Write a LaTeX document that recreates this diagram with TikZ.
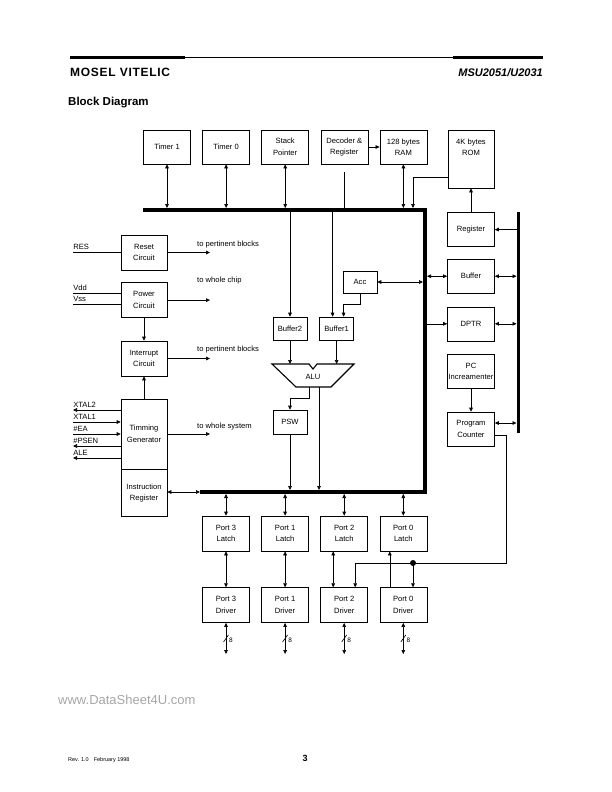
\documentclass[tikz,border=0pt]{standalone}
\usepackage{fontspec}
\setmainfont{Liberation Sans}
\newfontfamily\logofont[LetterSpace=6]{Liberation Sans}
\usetikzlibrary{positioning, arrows.meta}
\newcommand{\blkfont}{\fontsize{7.6}{11.5}\selectfont}
\tikzstyle{block} = [
    rectangle, draw, line width=0.6pt,
    minimum width=47pt, minimum height=34pt, % most boxes
    inner sep=1pt, align=center, font=\blkfont
]
\tikzstyle{smallblock} = [block, minimum width=34pt, minimum height=23pt]
\tikzstyle{note} = [font=\blkfont, inner sep=0pt, anchor=base west]
\tikzstyle{sig} = [note, yshift=3pt] % pin label above its line
\tikzstyle{link} = [line width=0.6pt]
\tikzstyle{arr} = [link, -{Triangle[length=4pt, width=3.6pt]}]
\tikzstyle{rarr} = [link, {Triangle[length=4pt, width=3.6pt]}-]
\tikzstyle{dbl} = [link, {Triangle[length=4pt, width=3.6pt]}-{Triangle[length=4pt, width=3.6pt]}]
\tikzstyle{bus} = [line width=4pt]

\begin{document}
\begin{tikzpicture}[x=1pt, y=-1pt, node distance=11.5pt]
    \useasboundingbox (0,0) rectangle (612,792);

    % Page header
    \draw[line width=3pt] (70,58) -- (185,58);
    \draw[line width=0.6pt] (185,57.5) -- (453,57.5);
    \draw[line width=3pt] (453,58) -- (543,58);
    \node[anchor=base west, inner sep=0pt, font=\fontsize{12}{14}\selectfont\logofont\bfseries] (vendor) at (70,77) {MOSEL VITELIC};
    \node[anchor=base east, inner sep=0pt, font=\fontsize{11}{13}\selectfont\bfseries\itshape] (part) at (543,77) {MSU2051/U2031};
    \node[anchor=base west, inner sep=0pt, font=\fontsize{11.5}{13}\selectfont\bfseries] (title) at (68,105) {Block Diagram};

    % Bus coordinates
    \coordinate (busA) at (143,210);
    \coordinate (busB) at (425,210);
    \coordinate (busC) at (425,492);
    \coordinate (busD) at (200,492);
    \coordinate (tbus) at (0,208);   % upper edge, top bus
    \coordinate (tbusb) at (0,212);  % lower edge, top bus
    \coordinate (rbusL) at (423,0);
    \coordinate (rbusR) at (427,0);
    \coordinate (bbusT) at (0,490);
    \coordinate (bbusB) at (0,494);
    \coordinate (sbusT) at (518,212);
    \coordinate (sbusB) at (518,433);
    \coordinate (sbusL) at (516.5,0);

    % Top row
    \node[block] (timer1) at (167,147) {Timer 1};
    \node[block] (timer0) [right=of timer1] {Timer 0};
    \node[block] (stack) [right=of timer0] {Stack\\Pointer};
    \node[block] (decoder) [right=of stack] {Decoder \&\\Register};
    \node[block] (ram) [right=of decoder] {128 bytes\\RAM};
    \node[block, minimum height=58pt, minimum width=46pt] (rom) at (471,159) {4K bytes\\ROM\\[12.5pt]};

    % Right column
    \node[block] (register) [below=24pt of rom] {Register};
    \node[block] (buffer) [below=12pt of register] {Buffer};
    \node[block] (dptr) [below=13pt of buffer] {DPTR};
    \node[block] (pcinc) [below=13pt of dptr] {PC\\\makebox[0pt]{Increamenter}};
    \node[block] (pc) [below=23pt of pcinc] {Program\\Counter};

    % Left column
    \node[block, minimum width=46pt, minimum height=35pt] (reset) at (144,252.5) {Reset\\Circuit};
    \node[block, minimum width=46pt, minimum height=35pt] (power) [below=12pt of reset] {Power\\Circuit};
    \node[block, minimum width=46pt, minimum height=35pt] (interrupt) at (144,358.5) {Interrupt\\Circuit};
    \node[block, minimum width=46pt, minimum height=70pt] (timing) at (144,434) {Timming\\Generator};
    \node[block, minimum width=46pt, minimum height=47pt] (instr) [below=0pt of timing] {Instruction\\Register};

    % Middle
    \node[smallblock] (buffer2) at (290,328.5) {Buffer2};
    \node[smallblock] (buffer1) [right=12pt of buffer2] {Buffer1};
    \node[smallblock, minimum height=22pt] (acc) at (360,282) {Acc};
    \node[smallblock, minimum height=24pt] (psw) at (290,422) {PSW};

    % ALU
    \draw[line width=1.1pt, line join=miter] (272,364) -- (309,364) -- (313,369) -- (317,364)
        -- (354,364) -- (331,387) -- (296,387) -- cycle;
    \node[font=\blkfont] (alu) at (313,377) {ALU};
    \coordinate (aluT) at (0,364);
    \coordinate (aluB1) at (309,387);
    \coordinate (aluB2) at (319,387);

    % Ports
    \node[block, minimum height=35pt] (latch3) at (226,533.5) {Port 3\\Latch};
    \node[block, minimum height=35pt] (latch1) [right=of latch3] {Port 1\\Latch};
    \node[block, minimum height=35pt] (latch2) [right=of latch1] {Port 2\\Latch};
    \node[block, minimum height=35pt] (latch0) [right=of latch2] {Port 0\\Latch};
    \foreach \p in {3,1,2,0}
        \node[block, minimum height=35pt] (drv\p) [below=36pt of latch\p] {Port \p\\Driver};

    % Buses
    \draw[bus, line join=miter] (busA) -- (busB) -- (busC) -- (busD);
    \draw[line width=3pt] (sbusT) -- (sbusB);

    % Top row to bus
    \draw[dbl] (timer1.south) -- (timer1.south |- tbus);
    \draw[dbl] (timer0.south) -- (timer0.south |- tbus);
    \draw[dbl] (stack.south) -- (stack.south |- tbus);
    \draw[link] ([yshift=-8pt]decoder.south) -- (decoder.south |- tbus);
    \draw[arr] (decoder.east) -- (ram.west);
    \draw[dbl] (ram.south) -- (ram.south |- tbus);
    \coordinate (romdrop) at (413,208);
    \draw[arr] ([yshift=-18pt]rom.west) -| (romdrop);
    \draw[arr] (register.north) -- (register.north |- rom.south);

    % Right column links
    \draw[arr] (register.east -| sbusL) -- (register.east);
    \draw[dbl] (buffer.east) -- (buffer.east -| sbusL);
    \draw[dbl] (dptr.east) -- (dptr.east -| sbusL);
    \draw[dbl] ([yshift=6pt]pc.east) -- ([yshift=6pt]pc.east -| sbusL);
    \draw[dbl] (buffer.west -| rbusR) -- (buffer.west);
    \draw[arr] (dptr.west -| rbusR) -- (dptr.west);
    \draw[arr] (pcinc.south) -- (pc.north);

    % Middle links
    \draw[dbl] (acc.east) -- (acc.east -| rbusL);
    \draw[arr] (buffer2.north |- tbusb) -- (buffer2.north);
    \draw[arr] ([xshift=-4pt]buffer1.north |- tbusb) -- ([xshift=-4pt]buffer1.north);
    \draw[arr] (acc.south) -- ++(0,11) -| ([xshift=7pt]buffer1.north);
    \draw[arr] (buffer2.south) -- (buffer2.south |- aluT);
    \draw[arr] (buffer1.south) -- (buffer1.south |- aluT);
    \draw[arr] (aluB1) -- ++(0,11) -| (psw.north);
    \draw[arr] (aluB2) -- (aluB2 |- bbusT);
    \draw[arr] (psw.south) -- (psw.south |- bbusT);

    % Left column signals
    \coordinate (outx) at (210,0);
    \coordinate (pinRES) at (73,252.5);
    \coordinate (pinVdd) at (73,293);
    \coordinate (pinVss) at (73,304);
    \draw[link] (pinRES) -- (reset.west) node[pos=0, sig] {RES};
    \draw[link] (pinVdd) -- (power.west |- pinVdd) node[pos=0, sig] {Vdd};
    \draw[link] (pinVss) -- (power.west |- pinVss) node[pos=0, sig] {Vss};
    \foreach \lbl/\yy/\tip in {XTAL2/410/rarr, XTAL1/422/arr, {\#EA}/434/arr, {\#PSEN}/446/rarr, ALE/458/rarr} {
        \coordinate (sig\yy) at (73,\yy);
        \draw[\tip] (sig\yy) -- (timing.west |- sig\yy) node[pos=0, sig] {\lbl};
    }
    \draw[arr] (reset.east) -- (reset.east -| outx);
    \draw[arr] (power.east) -- (power.east -| outx);
    \draw[arr] (interrupt.east) -- (interrupt.east -| outx);
    \draw[arr] (timing.east) -- (timing.east -| outx);
    \node[note] (toreset) at (197,246) {to pertinent blocks};
    \node[note] (tochip) at (197,282) {to whole chip};
    \node[note] (toint) at (197,351) {to pertinent blocks};
    \node[note] (tosys) at (197,428) {to whole system};
    \draw[arr] (power.south) -- (interrupt.north);
    \draw[arr] (timing.north) -- (interrupt.south);
    \draw[dbl] (instr.east |- busD) -- (busD);

    % Ports to bus and pins
    \foreach \p in {3,1,2,0}
        \draw[dbl] (latch\p.north |- bbusB) -- (latch\p.north);
    \draw[dbl] (latch3.south) -- (drv3.north);
    \draw[dbl] (latch1.south) -- (drv1.north);
    \draw[dbl] ([xshift=-11pt]latch2.south) -- ([xshift=-11pt]drv2.north);
    \draw[rarr] ([xshift=-13.5pt]latch0.south) -- ([xshift=-13.5pt]drv0.north);
    \coordinate (pcrun) at (506,0);
    \coordinate (joint) at (413,563);
    \draw[link] ([yshift=-6.5pt]pc.east) -| (pcrun |- joint) -- (joint);
    \draw[arr] (joint) -| ([xshift=11pt]drv2.north);
    \draw[arr] (joint) -- (joint |- drv0.north);
    \fill (joint) circle (3);
    \coordinate (pinrow) at (0,654);
    \foreach \p in {3,1,2,0} {
        \draw[dbl] (drv\p.south) -- (drv\p.south |- pinrow) coordinate[pos=0.5] (mid\p);
        \draw[link] ([shift={(-2.5,3.5)}]mid\p) -- ([shift={(2.5,-3.5)}]mid\p);
        \node[font=\fontsize{6.5}{7}\selectfont, anchor=west, inner sep=0pt] (width\p) at ([shift={(3,2)}]mid\p) {8};
    }

    % Footer
    \node[anchor=base west, inner sep=0pt, text=black!35, font=\fontsize{13}{15}\selectfont] (site) at (58,704) {www.DataSheet4U.com};
    \node[anchor=base west, inner sep=0pt, font=\fontsize{5.5}{6}\selectfont] (rev) at (68,761) {Rev. 1.0\hspace{5pt}February 1998};
    \node[anchor=base, inner sep=0pt, font=\fontsize{9}{10}\selectfont\bfseries] (page) at (305,761) {3};
\end{tikzpicture}
\end{document}
